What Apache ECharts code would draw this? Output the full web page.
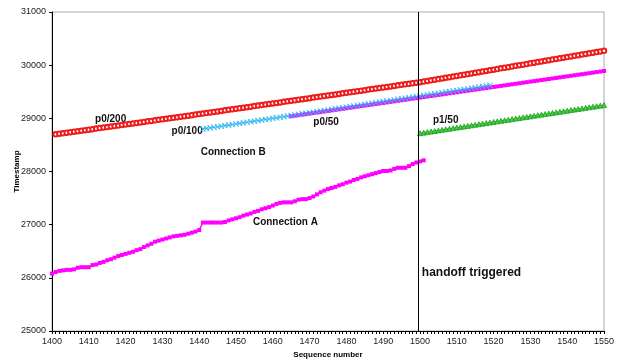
<!DOCTYPE html>
<html><head><meta charset="utf-8">
<script src="https://cdn.jsdelivr.net/npm/echarts@6/dist/echarts.min.js"></script>
<style>html,body{margin:0;padding:0;background:#fff}#c{width:619px;height:362px}</style>
</head><body><div id="c"></div>
<script>
// Sequence number axis ticks
var xTicks = [1400,1410,1420,1430,1440,1450,1460,1470,1480,1490,1500,1510,1520,1530,1540,1550];
var yTicks = [25000,26000,27000,28000,29000,30000,31000];

// p0/200 (red circles), sequence 1401..1550
var p0_200_start = 1401;
var p0_200 = [
28700,28710,28719,28729,28739,28749,28758,28768,28778,28787,
28797,28807,28816,28826,28836,28846,28855,28865,28875,28884,
28894,28904,28913,28923,28933,28943,28952,28962,28972,28981,
28991,29001,29010,29020,29030,29040,29050,29060,29070,29080,
29090,29100,29110,29120,29130,29140,29150,29160,29170,29180,
29190,29200,29210,29220,29230,29240,29250,29260,29270,29280,
29290,29300,29310,29320,29330,29340,29350,29360,29370,29380,
29390,29400,29410,29420,29430,29440,29450,29460,29470,29480,
29490,29500,29510,29520,29530,29540,29550,29560,29570,29580,
29590,29600,29610,29620,29630,29640,29650,29660,29670,29680,
29692,29704,29715,29727,29739,29751,29763,29774,29786,29798,
29810,29822,29833,29845,29857,29869,29881,29892,29904,29916,
29928,29940,29951,29963,29975,29987,29999,30010,30022,30034,
30046,30058,30069,30081,30093,30105,30117,30128,30140,30152,
30164,30176,30187,30199,30211,30223,30235,30246,30258,30270];

// Connection A (magenta squares), sequence 1400..1501
var connA_start = 1400;
var connA = [
26080,26110,26130,26140,26150,26150,26160,26190,26200,26200,
26200,26240,26250,26280,26300,26330,26350,26380,26410,26430,
26450,26470,26490,26520,26540,26580,26610,26640,26680,26700,
26720,26740,26760,26780,26790,26800,26810,26830,26850,26870,
26900,27040,27040,27040,27040,27040,27040,27050,27080,27100,
27120,27140,27170,27190,27210,27240,27260,27290,27310,27330,
27360,27390,27410,27420,27420,27420,27440,27470,27480,27480,
27500,27530,27570,27610,27640,27670,27690,27710,27740,27760,
27790,27810,27840,27860,27890,27910,27930,27950,27970,27990,
28010,28010,28020,28050,28070,28070,28070,28100,28140,28170,
28190,28210];

// p0/50 (magenta squares), sequence 1465..1550
var p0_50_start = 1465;
var p0_50 = [
29040,29050,29060,29070,29080,29090,29100,29110,29120,29130,
29140,29150,29160,29170,29180,29190,29200,29210,29220,29230,
29240,29250,29260,29270,29280,29290,29300,29310,29320,29330,
29340,29350,29360,29370,29380,29390,29400,29410,29420,29430,
29440,29450,29460,29470,29480,29490,29500,29510,29520,29530,
29540,29550,29560,29570,29580,29590,29600,29610,29620,29630,
29640,29650,29660,29670,29680,29690,29700,29710,29720,29730,
29740,29750,29760,29770,29780,29790,29800,29810,29820,29830,
29840,29850,29860,29870,29880,29890];

// p0/100 (blue crosses), sequence 1441..1519
var p0_100_start = 1441;
var p0_100 = [
28800,28811,28821,28832,28842,28853,28863,28874,28884,28895,
28905,28916,28926,28937,28947,28958,28968,28979,28989,29000,
29010,29021,29031,29042,29052,29063,29073,29084,29094,29105,
29115,29126,29136,29147,29157,29168,29178,29189,29199,29210,
29220,29231,29241,29252,29262,29273,29283,29294,29304,29315,
29325,29336,29346,29357,29367,29378,29388,29399,29409,29420,
29430,29441,29451,29462,29472,29483,29493,29504,29514,29525,
29535,29546,29556,29567,29577,29588,29598,29609,29619];

// p1/50 (green triangles), sequence 1500..1550
var p1_50_start = 1500;
var p1_50 = [
28720,28731,28741,28752,28762,28773,28784,28794,28805,28815,
28826,28837,28847,28858,28868,28879,28890,28900,28911,28921,
28932,28943,28953,28964,28974,28985,28996,29006,29017,29027,
29038,29049,29059,29070,29080,29091,29102,29112,29123,29133,
29144,29155,29165,29176,29186,29197,29208,29218,29229,29239,
29250];

var handoffSeq = 1499.5;

// Text annotations: [seq, timestamp, text, font size]
var annotations = [
  [1411.7, 28985, 'p0/200', 10],
  [1432.5, 28760, 'p0/100', 10],
  [1440.4, 28365, 'Connection B', 10],
  [1471.0, 28930, 'p0/50', 10],
  [1503.5, 28965, 'p1/50', 10],
  [1454.6, 27050, 'Connection A', 10],
  [1500.5, 26090, 'handoff triggered', 12]
];

function pairs(start, arr){ return arr.map(function(v,i){ return [start+i, v]; }); }

var FONT = '"Liberation Sans", Arial, sans-serif';
var chart = echarts.init(document.getElementById('c'), null, {renderer:'canvas'});
var crossPath = 'path://M0,1 L1,0 L5,4 L9,0 L10,1 L6,5 L10,9 L9,10 L5,6 L1,10 L0,9 L4,5Z';

chart.setOption({
  animation: false,
  backgroundColor: '#fff',
  grid: {left: 52, right: 15, top: 12, bottom: 31, containLabel: false, outerBoundsMode: 'none',
         show: true, borderColor: '#aaa', borderWidth: 1, backgroundColor: 'transparent'},
  xAxis: {
    type: 'value', min: xTicks[0], max: xTicks[xTicks.length-1], interval: 10,
    name: 'Sequence number', nameLocation: 'middle', nameGap: 20, nameMoveOverlap: false,
    nameTextStyle: {fontFamily: FONT, fontSize: 8, fontWeight: 'bold', color: '#000'},
    axisLine: {show: true, onZero: false, lineStyle: {color: '#000', width: 1}},
    axisTick: {show: true, length: 3, lineStyle: {color: '#000'}},
    minorTick: {show: true, splitNumber: 10, length: 3, lineStyle: {color: '#000'}},
    splitLine: {show: false},
    axisLabel: {fontFamily: FONT, fontSize: 9, color: '#222', margin: 6, formatter: function(v){return String(v);}}
  },
  yAxis: {
    type: 'value', min: yTicks[0], max: yTicks[yTicks.length-1], interval: 1000,
    name: 'Timestamp', nameLocation: 'middle', nameGap: 31, nameRotate: 90, nameMoveOverlap: false,
    nameTextStyle: {fontFamily: FONT, fontSize: 8, fontWeight: 'bold', color: '#000'},
    axisLine: {show: true, onZero: false, lineStyle: {color: '#000', width: 1}},
    axisTick: {show: true, length: 3, lineStyle: {color: '#000'}},
    splitLine: {show: false},
    axisLabel: {fontFamily: FONT, fontSize: 9, color: '#222', margin: 6, formatter: function(v){return String(v);}}
  },
  series: [
    {name: 'p0/200', type: 'line', data: pairs(p0_200_start, p0_200),
     symbol: 'emptyCircle', symbolSize: 4.5, showAllSymbol: true,
     lineStyle: {color: '#ee1c1c', width: 1}, itemStyle: {color: '#ee1c1c', borderColor: '#ee1c1c', borderWidth: 1}},
    {name: 'Connection A', type: 'line', data: pairs(connA_start, connA),
     symbol: 'rect', symbolSize: 4, showAllSymbol: true,
     lineStyle: {color: '#ff00ff', width: 1.5}, itemStyle: {color: '#ff00ff'}},
    {name: 'p0/50', type: 'line', data: pairs(p0_50_start, p0_50),
     symbol: 'rect', symbolSize: 4, showAllSymbol: true,
     lineStyle: {color: '#ff00ff', width: 1.5}, itemStyle: {color: '#ff00ff'}},
    {name: 'p0/100', type: 'line', data: pairs(p0_100_start, p0_100),
     symbol: crossPath, symbolSize: 6, showAllSymbol: true,
     lineStyle: {color: '#33b8ef', width: 1}, itemStyle: {color: '#33b8ef'}},
    {name: 'p1/50', type: 'line', data: pairs(p1_50_start, p1_50),
     symbol: 'triangle', symbolSize: 5, showAllSymbol: true,
     lineStyle: {color: '#22aa22', width: 1}, itemStyle: {color: '#44cc44', borderColor: '#1f9f1f', borderWidth: 0.8},
     markLine: {silent: true, symbol: ['none','none'], label: {show: false},
       lineStyle: {color: '#000', width: 1, type: 'solid'},
       data: [{xAxis: handoffSeq}]}}
  ]
});

var g = annotations.map(function(a){
  var p = chart.convertToPixel({gridIndex: 0}, [a[0], a[1]]);
  return {type: 'text', x: p[0], y: p[1], silent: true,
    style: {text: a[2], fill: '#111', font: 'bold ' + a[3] + 'px ' + FONT, textVerticalAlign: 'middle', verticalAlign: 'middle'}};
});
chart.setOption({graphic: g});
</script></body></html>
